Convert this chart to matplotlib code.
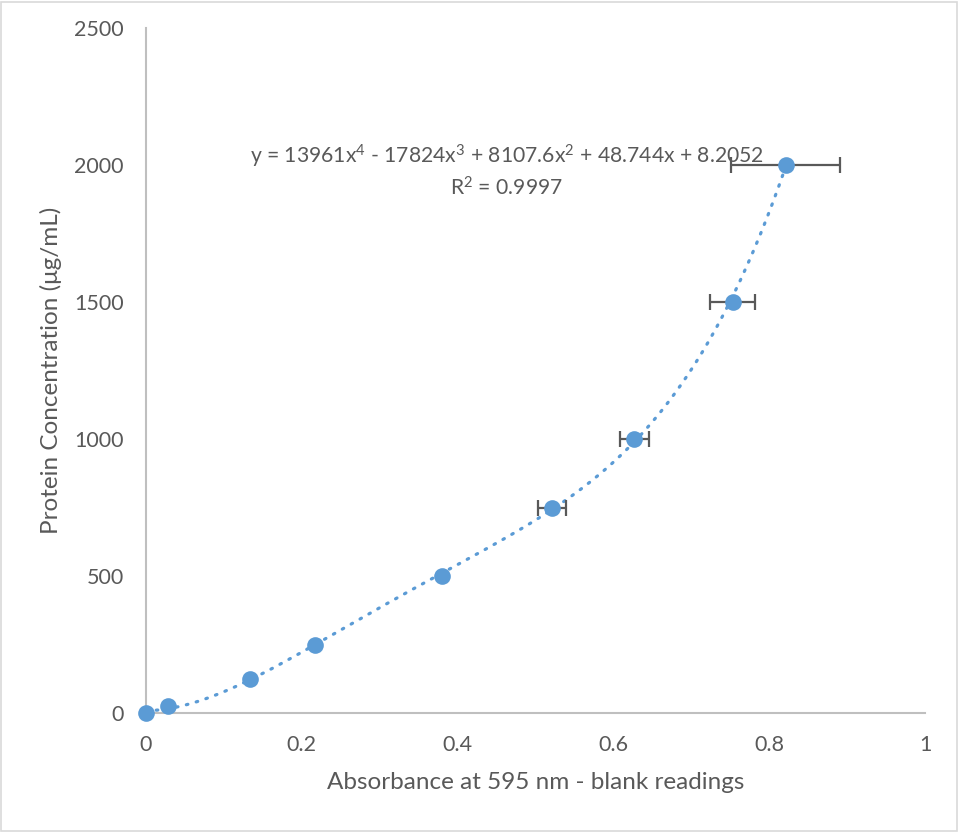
import numpy as np
import matplotlib.pyplot as plt

# standard curve readings
absorbance = [0.0, 0.0287, 0.1335, 0.217, 0.380, 0.521, 0.627, 0.753, 0.821]
concentration = [0, 25, 125, 250, 500, 750, 1000, 1500, 2000]
abs_err = [0, 0, 0, 0, 0, 0.0177, 0.0186, 0.0284, 0.0695]

# 4th order trendline: y = 13961x^4 - 17824x^3 + 8107.6x^2 + 48.744x + 8.2052
coeffs = [13961, -17824, 8107.6, 48.744, 8.2052]

blue = "#5B9BD5"
grey_txt = "#595959"
axis_col = "#BFBFBF"

plt.rcParams["font.family"] = ["Lato", "DejaVu Sans"]
plt.rcParams["mathtext.fontset"] = "custom"
plt.rcParams["mathtext.rm"] = "Lato"
plt.rcParams["mathtext.it"] = "Lato"

fig = plt.figure(figsize=(9.59, 8.32), dpi=100)
fig.patch.set_facecolor("white")
ax = fig.add_axes([146 / 959, 1 - 713 / 832, 779 / 959, 685 / 832])

# chart border
fig.patches.append(plt.Rectangle((0.001, 0.001), 0.997, 0.997, transform=fig.transFigure,
                                 fill=False, edgecolor="#D9D9D9", linewidth=1.2))

xs = np.linspace(0, max(absorbance), 200)
ax.plot(xs, np.polyval(coeffs, xs), color=blue, linewidth=2.3,
        linestyle=(0, (0.5, 2.7)), dash_capstyle="round", zorder=2, clip_on=False)

xerr = [e if e > 0 else np.nan for e in abs_err]
ax.errorbar(absorbance, concentration, xerr=xerr, fmt="none", ecolor=grey_txt,
            elinewidth=1.6, capsize=5.5, capthick=1.6, zorder=3)
ax.plot(absorbance, concentration, "o", color=blue, markersize=12,
        markeredgewidth=0, zorder=4, clip_on=False)

ax.set_xlim(0, 1)
ax.set_ylim(0, 2500)
ax.set_xticks([0, 0.2, 0.4, 0.6, 0.8, 1])
ax.set_xticklabels(["0", "0.2", "0.4", "0.6", "0.8", "1"])
ax.set_yticks([0, 500, 1000, 1500, 2000, 2500])
ax.tick_params(length=0, labelsize=15.5, colors=grey_txt)
ax.tick_params(axis="x", pad=16)
ax.tick_params(axis="y", pad=16)

for side in ["top", "right"]:
    ax.spines[side].set_visible(False)
for side in ["left", "bottom"]:
    ax.spines[side].set_color(axis_col)
    ax.spines[side].set_linewidth(1.5)
    ax.spines[side].set_zorder(0.5)

ax.set_xlabel("Absorbance at 595 nm - blank readings", fontsize=17.5, color=grey_txt, labelpad=12)
ax.set_ylabel("Protein Concentration (μg/mL)", fontsize=17.5, color=grey_txt, labelpad=9)

eq = (r"y = 13961x$^{4}$ - 17824x$^{3}$ + 8107.6x$^{2}$ + 48.744x + 8.2052" "\n"
      r"R$^{2}$ = 0.9997")
ax.text(0.4634, 1978, eq, fontsize=15.2, color=grey_txt, ha="center", va="center",
        linespacing=1.3, zorder=5)

fig.savefig("out.png", dpi=100, facecolor="white")
